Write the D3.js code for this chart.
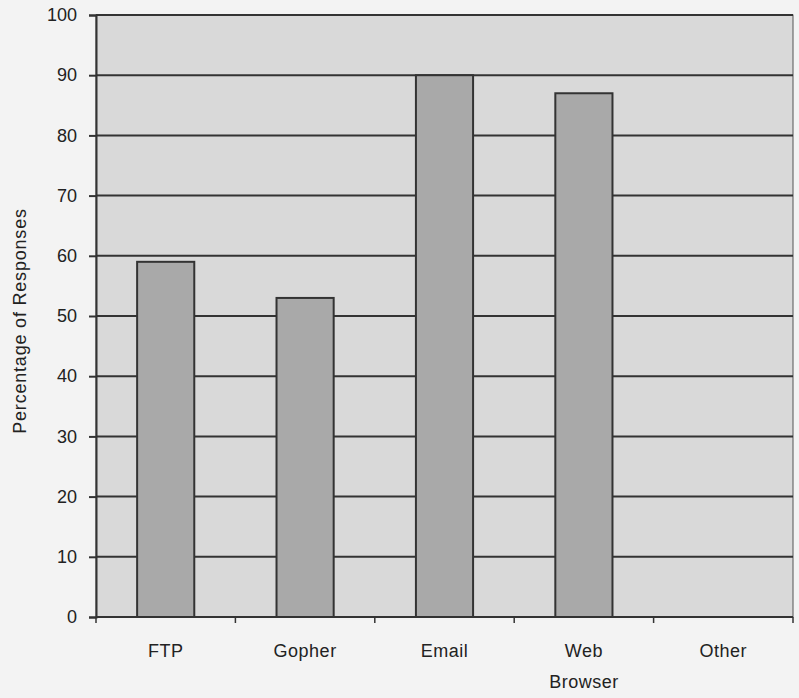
<!DOCTYPE html>
<html><head><meta charset="utf-8">
<script src="https://cdn.jsdelivr.net/npm/d3@7"></script>
<style>body{margin:0;background:#f3f3f3;}svg{display:block;}</style>
</head><body>
<svg id="c" width="799" height="698"></svg>
<script>
const categories = ["FTP", "Gopher", "Email", "Web\nBrowser", "Other"];
const values = [59, 53, 90, 87, 0];
const yTicks = [0,10,20,30,40,50,60,70,80,90,100];
const yLabel = "Percentage of Responses";

const svg = d3.select("#c");
const m = {l:96, r:6, t:15, b:81};
const W = 799, H = 698;
const x = d3.scaleBand().domain(categories).range([m.l, W - m.r]).paddingInner(0.59).paddingOuter(0.295);
const xb = d3.scaleBand().domain(categories).range([m.l, W - m.r]);
const y = d3.scaleLinear().domain([0,100]).range([H - m.b, m.t]);
const font = "'Liberation Sans', Arial, sans-serif";

svg.append("rect").attr("x", m.l).attr("y", m.t).attr("width", W - m.r - m.l).attr("height", y(0) - m.t)
  .attr("fill", "#d9d9d9").attr("stroke", "#555").attr("stroke-width", 1);

// gridlines
svg.append("g").selectAll("line").data(yTicks.filter(d => d > 0)).join("line")
  .attr("x1", m.l).attr("x2", W - m.r).attr("y1", d => y(d)).attr("y2", d => y(d))
  .attr("stroke", "#333").attr("stroke-width", 2);

// bars
svg.append("g").selectAll("rect").data(values).join("rect")
  .attr("x", (d,i) => x(categories[i])).attr("width", x.bandwidth())
  .attr("y", d => y(d)).attr("height", d => y(0) - y(d))
  .attr("fill", "#a9a9a9").attr("stroke", "#333").attr("stroke-width", 2);

// y axis
const ya = svg.append("g").attr("transform", `translate(${m.l},0)`)
  .call(d3.axisLeft(y).tickValues(yTicks).tickSize(7).tickPadding(12));
ya.selectAll("text").attr("font-family", font).attr("font-size", 18).attr("fill", "#222");
ya.selectAll("line,path").attr("stroke", "#333").attr("stroke-width", 2);

// x axis with ticks at band boundaries
const xa = svg.append("g").attr("transform", `translate(0,${y(0)})`);
xa.append("line").attr("x1", m.l).attr("x2", W - m.r).attr("stroke", "#333").attr("stroke-width", 2);
const bounds = categories.map(c => xb(c)).concat([W - m.r]);
xa.selectAll("line.t").data(bounds).join("line").attr("class","t")
  .attr("x1", d => d).attr("x2", d => d).attr("y1", 0).attr("y2", 6)
  .attr("stroke", "#333").attr("stroke-width", 1.5);
const lbl = xa.selectAll("text").data(categories).join("text")
  .attr("text-anchor", "middle").attr("font-family", font).attr("font-size", 18).attr("fill", "#222")
  .attr("letter-spacing", "0.5px")
  .attr("transform", c => `translate(${xb(c) + xb.bandwidth()/2},0)`);
lbl.selectAll("tspan").data(c => c.split("\n")).join("tspan")
  .attr("x", 0).attr("y", (d,i) => 40 + i*31).text(d => d);

svg.append("text").attr("transform", `translate(26,${(m.t + y(0))/2 + 5}) rotate(-90)`)
  .attr("text-anchor", "middle").attr("font-family", font).attr("font-size", 18).attr("fill", "#222")
  .attr("letter-spacing", "0.8px")
  .text(yLabel);
</script>
</body></html>
